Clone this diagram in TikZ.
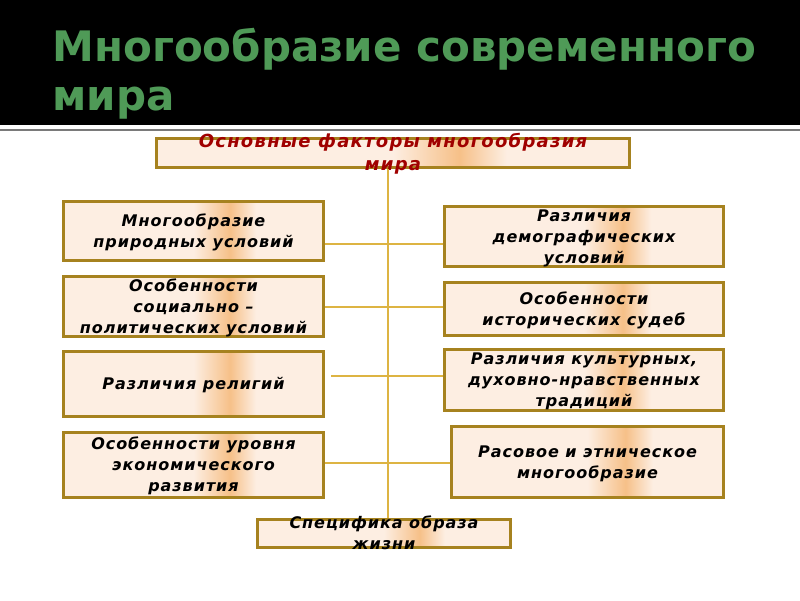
\documentclass[tikz,border=0pt]{standalone}
\usepackage{fontspec}
\setmainfont{DejaVu Sans}[BoldFont=* Bold, ItalicFont=* Oblique, BoldItalicFont=* Bold Oblique]
\newfontfamily\boxfont{DejaVu Sans}[LetterSpace=6, BoldFont=* Bold, ItalicFont=* Oblique, BoldItalicFont=* Bold Oblique]
\newfontfamily\headfont{DejaVu Sans}[LetterSpace=7, BoldFont=* Bold, ItalicFont=* Oblique, BoldItalicFont=* Bold Oblique]
\definecolor{TitleGreen}{HTML}{4F9A57}
\definecolor{RuleGray}{HTML}{7A7A7A}
\definecolor{Frame}{HTML}{A6821F}
\definecolor{Link}{HTML}{DDB443}
\definecolor{Peach}{HTML}{FDEEE2}
\definecolor{Stripe}{HTML}{F6C088}
\definecolor{FactorRed}{HTML}{A00000}
\pgfdeclarehorizontalshading{peachstripe}{100bp}{color(0bp)=(Peach); color(50bp)=(Peach);
  color(57bp)=(Stripe); color(62bp)=(Peach); color(100bp)=(Peach)}
\newcommand{\boxtext}[1]{\smash{\raisebox{-6pt}{\begin{tabular}{@{}c@{}}#1\end{tabular}}}}

\begin{document}
\begin{tikzpicture}[x=1pt, y=-1pt,
  factor/.style={draw=Frame, line width=3.5pt, shading=peachstripe, inner sep=0pt,
    font=\boxfont\bfseries\itshape\fontsize{16}{21}\selectfont},
  link/.style={draw=Link, line width=2pt}
]
\useasboundingbox (0,0) rectangle (800,600);
\fill[white] (0,0) rectangle (800,600);
\fill[black] (0,0) rectangle (800,125);
\draw[RuleGray, line width=1.5pt] (0,130) -- (800,130);

\node[anchor=base west, text=TitleGreen, align=left,
  font=\bfseries\fontsize{42}{49}\selectfont] (title) at (49,110)
  {Многообразие современного\\мира};

% central box and spine
\node[factor, minimum width=473pt, minimum height=29pt, text=FactorRed,
  font=\headfont\bfseries\itshape\fontsize{18}{23}\selectfont] (factors) at (393,153)
  {\boxtext{Основные факторы многообразия\\мира}};
\node[factor, minimum width=253pt, minimum height=28pt] (life) at (384,533.5)
  {\boxtext{Специфика образа\\жизни}};
\coordinate (spine) at (388,0);
\draw[link] (factors.south -| spine) -- (life.north -| spine);

% left column
\node[factor, minimum width=260pt, minimum height=59pt] (nature) at (193.5,231)
  {\boxtext{Многообразие\\природных условий}};
\node[factor, minimum width=260pt, minimum height=60pt] (politics) at (193.5,306.5)
  {\boxtext{Особенности\\социально –\\политических условий}};
\node[factor, minimum width=260pt, minimum height=65pt] (religion) at (193.5,384)
  {\boxtext{Различия религий}};
\node[factor, minimum width=260pt, minimum height=65pt] (economy) at (193.5,465)
  {\boxtext{Особенности уровня\\экономического\\развития}};

% right column
\node[factor, minimum width=279pt, minimum height=60pt] (demography) at (584,236.5)
  {\boxtext{Различия\\демографических\\условий}};
\node[factor, minimum width=279pt, minimum height=53pt] (history) at (584,309)
  {\boxtext{Особенности\\исторических судеб}};
\node[factor, minimum width=279pt, minimum height=61pt] (culture) at (584,380)
  {\boxtext{Различия культурных,\\духовно-нравственных\\традиций}};
\node[factor, minimum width=272pt, minimum height=71pt] (race) at (587.5,462)
  {\boxtext{Расовое и этническое\\многообразие}};

% cross links
\coordinate (j1) at (388,244);
\coordinate (j2) at (388,307);
\coordinate (j3) at (388,376);
\coordinate (j4) at (388,463);
\draw[link] (nature.east |- j1) -- (demography.west |- j1);
\draw[link] (politics.east |- j2) -- (history.west |- j2);
\draw[link] ([xshift=6pt]religion.east |- j3) -- (culture.west |- j3);
\draw[link] (economy.east |- j4) -- (race.west |- j4);
\end{tikzpicture}
\end{document}
